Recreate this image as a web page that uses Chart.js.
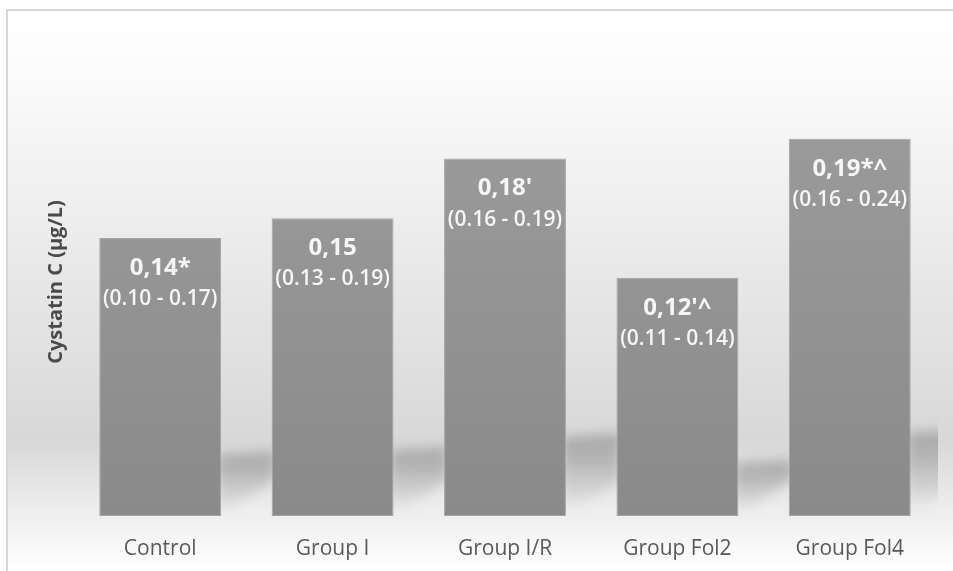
<!DOCTYPE html>
<html>
<head>
<meta charset="utf-8">
<script src="https://cdn.jsdelivr.net/npm/chart.js@4"></script>
<style>
  html, body { margin: 0; padding: 0; background: #fff; }
  #wrap { width: 953px; height: 571px; }
</style>
</head>
<body>
<div id="wrap"><canvas id="cystatinChart" width="953" height="571"></canvas></div>
<script>
const categories = ['Control', 'Group I', 'Group I/R', 'Group Fol2', 'Group Fol4'];
const medians = [0.14, 0.15, 0.18, 0.12, 0.19];
const medianLabels = ['0,14*', '0,15', "0,18'", "0,12'^", '0,19*^'];
const rangeLabels = ['(0.10 - 0.17)', '(0.13 - 0.19)', '(0.16 - 0.19)', '(0.11 - 0.14)', '(0.16 - 0.24)'];

document.addEventListener('DOMContentLoaded', function () {
    const ctx = document.getElementById('cystatinChart').getContext('2d');

    // Light frame and the grey "floor" gradient behind everything
    const backdropPlugin = {
        id: 'backdropPlugin',
        beforeDraw(chart) {
            const { ctx, width, height } = chart;
            ctx.save();
            ctx.fillStyle = '#ffffff';
            ctx.fillRect(0, 0, width, height);
            const g = ctx.createLinearGradient(0, 10, 0, height);
            g.addColorStop(0, '#ffffff');
            g.addColorStop(0.1, '#fcfcfc');
            g.addColorStop(0.45, '#e9e9e9');
            g.addColorStop(0.77, '#d8d8d8');
            g.addColorStop(0.9, '#efefef');
            g.addColorStop(1, '#ffffff');
            ctx.fillStyle = g;
            ctx.fillRect(7, 10, width - 7, height - 10);
            ctx.strokeStyle = '#d6d6d6';
            ctx.lineWidth = 2;
            ctx.beginPath();
            ctx.moveTo(7, height);
            ctx.lineTo(7, 10);
            ctx.lineTo(width, 10);
            ctx.stroke();
            ctx.restore();
        }
    };

    // Soft slanted shadow cast to the right of each bar
    const shadowPlugin = {
        id: 'shadowPlugin',
        beforeDatasetsDraw(chart) {
            const { ctx, chartArea } = chart;
            const meta = chart.getDatasetMeta(0);
            ctx.save();
            ctx.beginPath();
            ctx.rect(chartArea.left, chartArea.top, chartArea.right - chartArea.left + 2, chartArea.bottom - chartArea.top);
            ctx.clip();
            ctx.filter = 'blur(6px)';
            meta.data.forEach((bar) => {
                const right = bar.x + bar.width / 2;
                const h = bar.base - bar.y;
                const top = bar.base - h * 0.22;
                const w = 54;
                const g = ctx.createLinearGradient(0, top, 0, bar.base);
                g.addColorStop(0, 'rgba(150,150,150,0.7)');
                g.addColorStop(0.3, 'rgba(160,160,160,0.65)');
                g.addColorStop(0.7, 'rgba(190,190,190,0.45)');
                g.addColorStop(1, 'rgba(240,240,240,0.1)');
                ctx.fillStyle = g;
                ctx.beginPath();
                ctx.moveTo(right - 4, top);
                ctx.lineTo(right + w, top - 4);
                ctx.lineTo(right + w, bar.base - 36);
                ctx.lineTo(right - 4, bar.base);
                ctx.closePath();
                ctx.fill();
            });
            ctx.restore();
        }
    };

    // Median and range text inside the bars
    const labelPlugin = {
        id: 'labelPlugin',
        afterDatasetsDraw(chart) {
            const { ctx } = chart;
            const meta = chart.getDatasetMeta(0);
            ctx.save();
            ctx.fillStyle = '#f6f6f6';
            ctx.textAlign = 'center';
            ctx.textBaseline = 'middle';
            meta.data.forEach((bar, i) => {
                ctx.font = 'bold 24px "Open Sans"';
                ctx.fillText(medianLabels[i], bar.x, bar.y + 30);
                ctx.font = '600 21px "Open Sans"';
                ctx.fillText(rangeLabels[i], bar.x, bar.y + 61);
            });
            ctx.restore();
        }
    };

    new Chart(ctx, {
        type: 'bar',
        data: {
            labels: categories,
            datasets: [{
                data: medians,
                backgroundColor: (context) => {
                    const area = context.chart.chartArea;
                    if (!area) return '#949494';
                    const g = context.chart.ctx.createLinearGradient(0, area.top, 0, area.bottom);
                    g.addColorStop(0, '#9e9e9e');
                    g.addColorStop(1, '#8a8a8a');
                    return g;
                },
                borderColor: '#a4a4a4',
                borderWidth: 1,
                borderSkipped: false,
                categoryPercentage: 1,
                barPercentage: 0.707
            }]
        },
        options: {
            responsive: false,
            animation: false,
            layout: { padding: { top: 48, left: 44, right: 17, bottom: 0 } },
            plugins: {
                legend: { display: false },
                tooltip: { enabled: false }
            },
            scales: {
                x: {
                    grid: { display: false, drawTicks: false },
                    border: { display: false },
                    ticks: {
                        padding: 20,
                        color: '#595959',
                        font: { family: 'Open Sans', size: 21 }
                    },
                    afterFit(scale) { scale.height = 55; }
                },
                y: {
                    min: 0,
                    max: 0.2357,
                    grid: { display: false, drawTicks: false },
                    border: { display: false },
                    ticks: { display: false },
                    title: {
                        display: true,
                        text: 'Cystatin C (µg/L)',
                        color: '#4a4a4a',
                        padding: { top: 0, bottom: 0 },
                        font: { family: 'Open Sans', size: 20, weight: 'bold' }
                    },
                    afterFit(scale) { scale.width = 30; }
                }
            }
        },
        plugins: [backdropPlugin, shadowPlugin, labelPlugin]
    });
});
</script>
</body>
</html>
